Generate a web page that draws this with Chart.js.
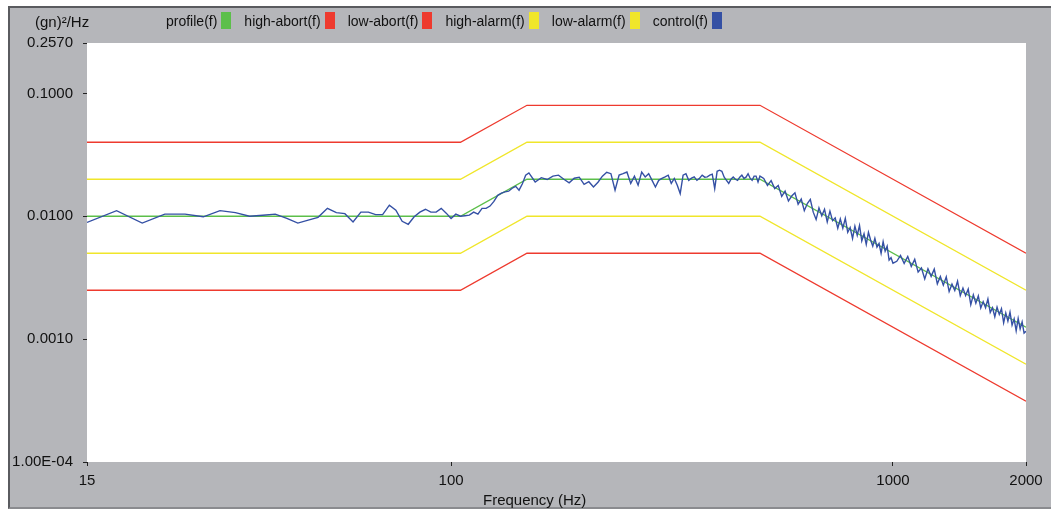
<!DOCTYPE html>
<html>
<head>
<meta charset="utf-8">
<script src="https://cdn.jsdelivr.net/npm/chart.js@4.4.1/dist/chart.umd.min.js"></script>
<style>
  html, body { margin: 0; padding: 0; background: #fff; }
  #wrap { position: relative; width: 1051px; height: 512px; overflow: hidden; }
  #frame { position: absolute; left: 8px; top: 6px; width: 1043px; height: 503px; background: #b5b6ba;
           border-left: 2px solid #5a5b5f; border-top: 2px solid #5a5b5f; border-bottom: 2px solid #8a8b8f; box-sizing: border-box; }
  #chart { position: absolute; left: 0; top: 0; }
  .txt { position: absolute; font: 15px "Liberation Sans", Arial, sans-serif; color: #111; white-space: nowrap; }
  #legend { position: absolute; left: 166px; top: 12px; display: flex; align-items: center; height: 17px; }
  #legend .item { display: flex; align-items: center; margin-right: 13px; font: 14px "Liberation Sans", Arial, sans-serif; color: #111; }
  #legend .sw { display: inline-block; width: 10px; height: 17px; margin-left: 4px; }
</style>
</head>
<body>
<div id="wrap">
  <div id="frame"></div>
  <canvas id="chart" width="1051" height="512"></canvas>
  <div id="legend"></div>
  <div class="txt" style="left:35px; top:13px;">(gn)²/Hz</div>
  <div class="txt" style="left:483px; top:491px;">Frequency (Hz)</div>
</div>
<script>
// break points of the reference profile and its alarm / abort limits
const breakFreq = [15, 105, 148.5, 500, 2000];
const profile   = [0.01, 0.01, 0.02, 0.02, 0.00125];
const highAbort = [0.04, 0.04, 0.08, 0.08, 0.005];
const lowAbort  = [0.0025, 0.0025, 0.005, 0.005, 0.0003125];
const highAlarm = [0.02, 0.02, 0.04, 0.04, 0.0025];
const lowAlarm  = [0.005, 0.005, 0.01, 0.01, 0.000625];

const controlFreq = [
  15, 17.5, 20, 22.5, 25, 27.5, 30, 32.5, 35, 37.5,
  40, 42.5, 45, 47.5, 50, 52.5, 55, 57.5, 60, 62.5,
  65, 67.5, 70, 72.5, 75, 77.5, 80, 82.5, 85, 87.5,
  90, 92.5, 95, 97.5, 100, 102.5, 105, 107.5, 110, 112.5,
  115, 117.5, 120, 122.5, 125, 127.5, 130, 132.5, 135, 137.5,
  140, 142.5, 145, 147.5,
  150, 155, 160, 165, 170, 175, 180, 185, 190, 195,
  200, 205, 210, 215, 220, 225, 230, 235, 240, 245,
  250, 255, 260, 265, 270, 275, 280, 285, 290, 295,
  300, 305, 310, 315, 320, 325, 330, 335, 340, 345,
  350, 355, 360, 365, 370, 375, 380, 385, 390, 395,
  400, 405, 410, 415, 420, 425, 430, 435, 440, 445,
  450, 455, 460, 465, 470, 475, 480, 485, 490, 495,
  500, 510, 520, 530, 540, 550, 560, 570, 580, 590,
  600, 610, 620, 630, 640, 650, 660, 670, 680, 690,
  700, 710, 720, 730, 740, 750, 760, 770, 780, 790,
  800, 810, 820, 830, 840, 850, 860, 870, 880, 890,
  900, 910, 920, 930, 940, 950, 960, 970, 980, 990,
  1000, 1020, 1040, 1060, 1080, 1100, 1120, 1140, 1160, 1180,
  1200, 1220, 1240, 1260, 1280, 1300, 1320, 1340, 1360, 1380,
  1400, 1420, 1440, 1460, 1480, 1500, 1520, 1540, 1560, 1580,
  1600, 1620, 1640, 1660, 1680, 1700, 1720, 1740, 1760, 1780,
  1800, 1820, 1840, 1860, 1880, 1900, 1920, 1940, 1960, 1980,
  2000
];
const controlPsd = [
  0.0089, 0.0111, 0.0088, 0.0104, 0.0104, 0.0099, 0.0111, 0.0107, 0.0100, 0.0102,
  0.0104, 0.0096, 0.0088, 0.0093, 0.0098, 0.0116, 0.0107, 0.0105, 0.0090, 0.0108,
  0.0108, 0.0103, 0.0103, 0.0123, 0.0112, 0.0091, 0.0086, 0.0099, 0.0108, 0.0114,
  0.0108, 0.0108, 0.0116, 0.0106, 0.0096, 0.0104, 0.0100, 0.0101, 0.0102, 0.0108,
  0.0104, 0.0116, 0.0116, 0.0121, 0.0132, 0.0148, 0.0154, 0.0158, 0.0160, 0.0169,
  0.0175, 0.0163, 0.0184, 0.0216,
  0.0225, 0.0190, 0.0206, 0.0199, 0.0212, 0.0216, 0.0200, 0.0187, 0.0204, 0.0208,
  0.0182, 0.0191, 0.0173, 0.0189, 0.0212, 0.0228, 0.0222, 0.0163, 0.0216, 0.0222,
  0.0229, 0.0185, 0.0212, 0.0179, 0.0229, 0.0209, 0.0222, 0.0196, 0.0173, 0.0196,
  0.0203, 0.0209, 0.0216, 0.0185, 0.0203, 0.0179, 0.0153, 0.0216, 0.0222, 0.0196,
  0.0204, 0.0209, 0.0196, 0.0204, 0.0216, 0.0208, 0.0209, 0.0216, 0.0220, 0.0168,
  0.0232, 0.0237, 0.0232, 0.0208, 0.0196, 0.0185, 0.0200, 0.0209, 0.0200, 0.0196,
  0.0208, 0.0216, 0.0203, 0.0208, 0.0222, 0.0204, 0.0196, 0.0212, 0.0212, 0.0190,
  0.0212, 0.0203, 0.0178, 0.0195, 0.0168, 0.0178, 0.0145, 0.0160, 0.0133, 0.0146,
  0.0155, 0.0125, 0.0138, 0.0111, 0.0127, 0.0137, 0.0108, 0.0094, 0.0117, 0.0101,
  0.0114, 0.0090, 0.0110, 0.0092, 0.0097, 0.0080, 0.0095, 0.0080, 0.0096, 0.0074,
  0.0081, 0.0066, 0.0083, 0.0070, 0.0084, 0.0063, 0.0072, 0.0059, 0.0074, 0.0064,
  0.0057, 0.0066, 0.0056, 0.0060, 0.0050, 0.0062, 0.0052, 0.0057, 0.0044, 0.0046,
  0.00415, 0.00430, 0.00480, 0.00413, 0.00471, 0.00390, 0.00446, 0.00351, 0.00379, 0.00309,
  0.00374, 0.00324, 0.00371, 0.00282, 0.00323, 0.00275, 0.00321, 0.00244, 0.00280, 0.00249,
  0.00296, 0.00226, 0.00260, 0.00226, 0.00255, 0.00191, 0.00229, 0.00196, 0.00225, 0.00179,
  0.00202, 0.00180, 0.00212, 0.00165, 0.00180, 0.00152, 0.00182, 0.00159, 0.00177, 0.00136,
  0.00163, 0.00140, 0.00166, 0.00130, 0.00146, 0.00117, 0.00147, 0.00121, 0.00138, 0.00112,
  0.00116
];

const xTicks = [15, 100, 1000, 2000];
const xTickLabels = ['15', '100', '1000', '2000'];
const yTicks = [0.0001, 0.001, 0.01, 0.1, 0.257];
const yTickLabels = ['1.00E-04', '0.0010', '0.0100', '0.1000', '0.2570'];

const seriesNames  = ['profile(f)', 'high-abort(f)', 'low-abort(f)', 'high-alarm(f)', 'low-alarm(f)', 'control(f)'];
const seriesColors = ['#5cbf4a', '#ee3a2e', '#ee3a2e', '#f0e62a', '#f0e62a', '#3450a4'];

const FONT = '"Liberation Sans", Arial, sans-serif';

// legend: label first, colour swatch after it
const legendEl = document.getElementById('legend');
seriesNames.forEach((name, i) => {
  const item = document.createElement('span');
  item.className = 'item';
  item.innerHTML = name + '<span class="sw" style="background:' + seriesColors[i] + '"></span>';
  legendEl.appendChild(item);
});

const pts = (xs, ys) => xs.map((x, i) => ({ x: x, y: ys[i] }));

const plotBg = {
  id: 'plotBg',
  beforeDraw(c) {
    const { ctx, chartArea: a } = c;
    ctx.save();
    ctx.fillStyle = '#ffffff';
    ctx.fillRect(a.left, a.top, a.right - a.left, a.bottom - a.top);
    ctx.restore();
  }
};

const limitLine = (data, color, order) => ({
  data: data, borderColor: color, borderWidth: 1.3, pointRadius: 0, order: order, fill: false
});

new Chart(document.getElementById('chart').getContext('2d'), {
  type: 'line',
  data: {
    datasets: [
      { data: pts(controlFreq, controlPsd), borderColor: seriesColors[5], borderWidth: 1.4, pointRadius: 0, order: 0 },
      limitLine(pts(breakFreq, profile), seriesColors[0], 1),
      limitLine(pts(breakFreq, highAbort), seriesColors[1], 2),
      limitLine(pts(breakFreq, lowAbort), seriesColors[2], 2),
      limitLine(pts(breakFreq, highAlarm), seriesColors[3], 2),
      limitLine(pts(breakFreq, lowAlarm), seriesColors[4], 2)
    ]
  },
  options: {
    responsive: false,
    animation: false,
    layout: { padding: { left: 0, right: 25, top: 43, bottom: 0 } },
    plugins: { legend: { display: false }, tooltip: { enabled: false } },
    elements: { line: { tension: 0 } },
    scales: {
      x: {
        type: 'logarithmic', min: 15, max: 2000,
        afterBuildTicks: s => { s.ticks = xTicks.map(v => ({ value: v })); },
        afterFit: s => { s.height = 50; },
        grid: { drawOnChartArea: false, tickLength: 4, color: '#222' },
        border: { display: false },
        ticks: { autoSkip: false, maxRotation: 0, padding: 6, color: '#111', font: { family: FONT, size: 15 },
                 callback: (v, i) => xTickLabels[i] }
      },
      y: {
        type: 'logarithmic', min: 0.0001, max: 0.257,
        afterBuildTicks: s => { s.ticks = yTicks.map(v => ({ value: v })); },
        afterFit: s => { s.width = 87; },
        grid: { drawOnChartArea: false, tickLength: 4, color: '#222' },
        border: { display: false },
        ticks: { autoSkip: false, padding: 10, color: '#111', font: { family: FONT, size: 15 },
                 callback: (v, i) => yTickLabels[i] }
      }
    }
  },
  plugins: [plotBg]
});
</script>
</body>
</html>
